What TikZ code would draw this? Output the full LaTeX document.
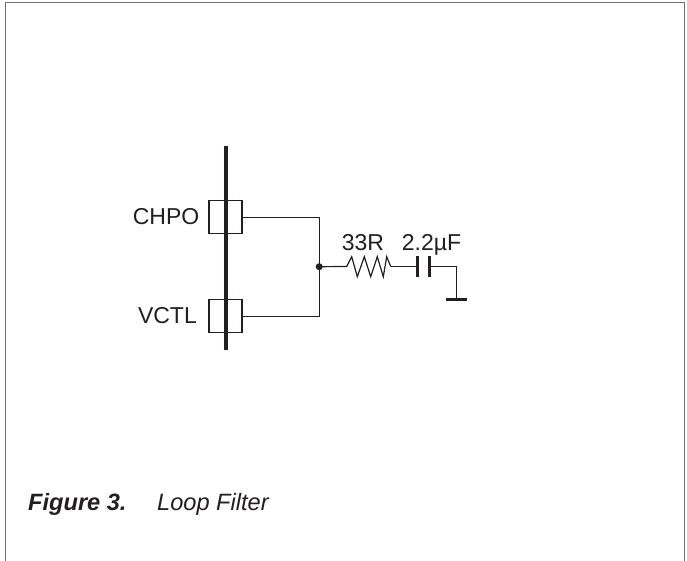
\documentclass[tikz,border=0pt]{standalone}
\usepackage{fontspec}
\setmainfont{Liberation Sans}
\definecolor{ink}{HTML}{231F20}
\definecolor{framegray}{HTML}{707070}
\tikzset{
  wire/.style={draw=ink,line width=1.2pt,line join=miter},
  pinbox/.style={draw=ink,line width=1.4pt,minimum width=33pt,minimum height=33pt,inner sep=0pt},
  pinlabel/.style={text=ink,font=\fontsize{23}{27}\selectfont,inner sep=0pt},
  vallabel/.style={text=ink,font=\fontsize{23}{27}\selectfont,inner sep=0pt},
  capplate/.style={draw=ink,line width=3pt},
  busbar/.style={draw=ink,line width=4.3pt},
  gndbar/.style={draw=ink,line width=3.2pt},
  framing/.style={draw=framegray,line width=1.3pt},
  caption/.style={text=ink,font=\fontsize{23.6}{28}\selectfont\itshape,inner sep=0pt,anchor=base west},
  junction/.style={circle,fill=ink,minimum size=7pt,inner sep=0pt}
}
\begin{document}
\begin{tikzpicture}[x=1pt,y=-1pt]
\useasboundingbox (0,0) rectangle (687,561);
\fill[white] (0,0) rectangle (687,561);
% page frame
\coordinate (fbl) at (5.8,561);
\coordinate (ftl) at (5.8,2.2);
\coordinate (ftr) at (684.6,2.2);
\coordinate (fbr) at (684.6,561);
\draw[framing] (fbl) -- (ftl) -- (ftr) -- (fbr);
% pins
\node[pinbox] (chpo) at (225.5,217) {};
\node[pinbox] (vctl) at (225.5,316) {};
\coordinate (bustop) at (225.7,146);
\coordinate (busbot) at (225.7,349.5);
\draw[busbar] (bustop) -- (busbot);
\node[pinlabel,anchor=east] (chpolabel) at (199.5,216.7) {CHPO};
\node[pinlabel,anchor=east] (vctllabel) at (197,315.7) {VCTL};
% net
\node[junction] (jn) at (319.2,266.7) {};
\coordinate (cornera) at (319.2,217.5);
\coordinate (cornerb) at (319.2,316.5);
\draw[wire] (chpo.east |- cornera) -- (cornera) -- (cornerb) -- (vctl.east |- cornerb);
% resistor
\coordinate (ra) at (346.7,266.5);
\coordinate (rb) at (390.7,266.5);
\draw[wire] (jn.center) -- (ra)
  -- (351.7,256.7) -- (357.3,276.7) -- (364.3,256.7) -- (370.7,276.7)
  -- (377.3,256.7) -- (383.3,276.7) -- (386.7,256.7) -- (rb);
% capacitor
\coordinate (cpa) at (417.7,266.5);
\coordinate (cpb) at (429.3,266.5);
\draw[wire] (rb) -- (cpa);
\draw[capplate] (417.7,256) -- (417.7,277);
\draw[capplate] (429.3,256) -- (429.3,277);
% ground
\coordinate (gc) at (456.7,266.5);
\coordinate (gnd) at (456.7,299);
\draw[wire] (cpb) -- (gc) -- (gnd);
\draw[gndbar] (445.7,299.3) -- (467.4,299.3);
% values
\node[vallabel,anchor=base] (rval) at (363,250.5) {33R};
\node[vallabel,anchor=base] (cval) at (431.5,250.5) {2.2µF};
% caption
\node[caption] (figlabel) at (28,510.5) {\bfseries Figure 3.};
\node[caption] (figtitle) at (157,510.5) {Loop Filter};
\end{tikzpicture}
\end{document}
